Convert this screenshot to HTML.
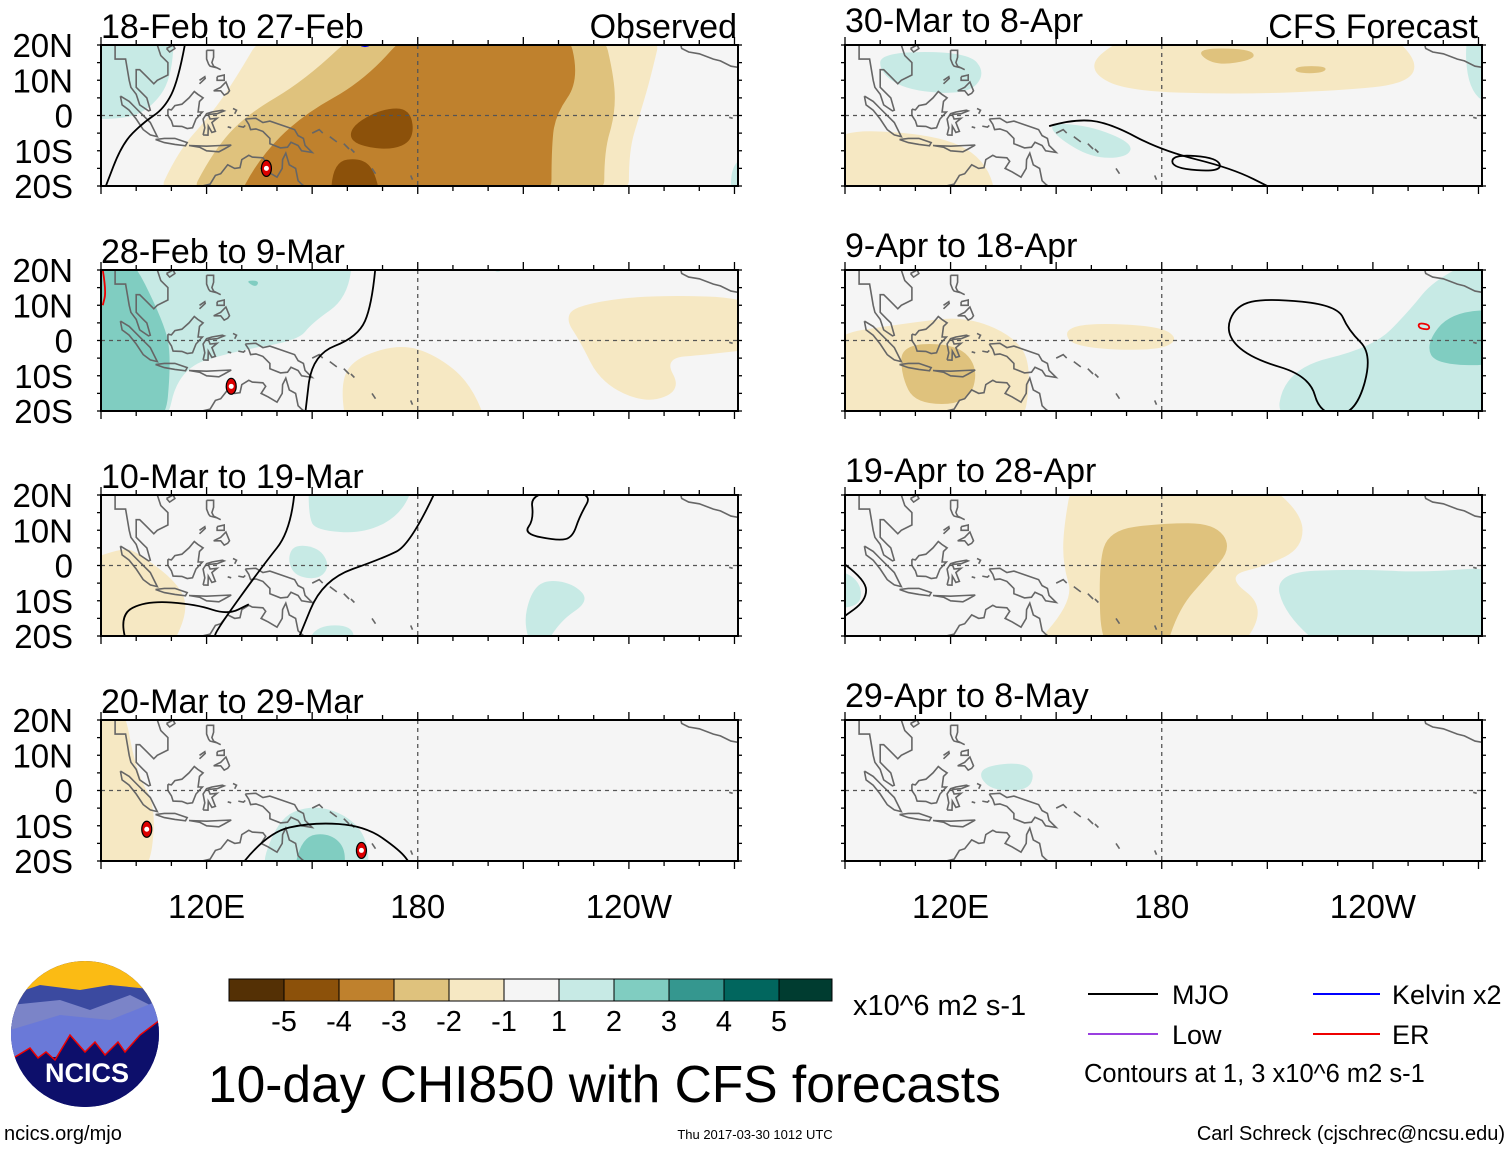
<!DOCTYPE html>
<html><head><meta charset="utf-8"><style>
html,body{margin:0;padding:0;background:#fff}
svg{display:block;font-family:"Liberation Sans",Arial,sans-serif}
</style></head><body>
<svg id="c" width="1510" height="1149" viewBox="0 0 1510 1149" xmlns="http://www.w3.org/2000/svg"></svg>
<script>
const levels=[-5,-4,-3,-2,-1,1,2,3,4,5];
const levelColors=["#543005","#8c510a","#bf812d","#dfc27d","#f6e8c3","#c7eae5","#80cdc1","#35978f","#01665e","#003c30"];
const lonTickLabels=["120E","180","120W"];
const lonTicks=[120,180,240];
const latTickLabels=["20N","10N","0","10S","20S"];
const latTicks=[20,10,0,-10,-20];
const panelTitles=["18-Feb to 27-Feb","28-Feb to 9-Mar","10-Mar to 19-Mar","20-Mar to 29-Mar","30-Mar to 8-Apr","9-Apr to 18-Apr","19-Apr to 28-Apr","29-Apr to 8-May"];
// shaded anomaly regions: [level, [[lon,lat],...]]
const shapes0=[[-1,[[138,20],[250,20],[246,10],[243,0],[240,-10],[240,-20],[104,-20],[112,-10],[121,0],[128,10]]],
[-2,[[166,20],[232,20],[236,10],[236,0],[233,-10],[233,-20],[113,-20],[122,-10],[131,0],[148,10]]],
[-3,[[180,20],[222,20],[226,10],[219,0],[218,-10],[218,-20],[127,-20],[135,-12],[147,0],[165,10]]],
[-4,[[161,-3],[170,2],[178,2],[179,-7],[172,-10],[161,-8]]],
[-4,[[155,-20],[156,-13],[164,-12],[168,-16],[170,-20]]],
[1,[[89,21],[111,21],[110,10],[104,2],[97,-1],[89,-1]]],
[1,[[269,-12],[272,-12],[272,-20],[269,-20]]]];
const shapes1=[[1,[[89,21],[162,21],[160,12],[150,5],[146,0],[128,-3],[112,-8],[108,-21],[89,-21]]],
[1,[[197,21],[207,21],[203,17]]],
[2,[[89,21],[97,21],[108,5],[110,-5],[108,-21],[89,-21]]],
[2,[[131,17],[135,17],[134,15]]],
[-1,[[162,-5],[175,-1],[185,-4],[195,-12],[201,-21],[160,-21],[158,-12]]],
[-1,[[225,10],[245,13],[272,12],[272,-2],[262,-4],[250,-5],[255,-14],[245,-18],[232,-12],[226,0],[222,6]]]];
const shapes2=[[1,[[149,21],[180,21],[176,15],[165,9],[151,10],[149,14]]],
[1,[[145,6],[152,5],[155,0],[152,-4],[145,-3],[143,2]]],
[1,[[216,-4],[224,-5],[229,-10],[220,-16],[214,-21],[210,-17],[212,-8]]],
[1,[[150,-17],[163,-17],[160,-21],[148,-21]]],
[-1,[[89,0],[96,5],[100,4],[112,-5],[115,-13],[108,-21],[89,-21]]]];
const shapes3=[[-1,[[89,21],[96,21],[100,5],[106,-5],[103,-21],[89,-21]]],
[1,[[134,-21],[140,-8],[150,-4],[160,-7],[166,-14],[166,-21]]],
[2,[[144,-21],[147,-13],[155,-12],[160,-17],[158,-21]]]];
const shapes4=[[-1,[[162,18],[180,21],[240,21],[253,16],[250,9],[230,7],[200,6],[170,7],[160,12]]],
[-1,[[89,-4],[115,-5],[130,-12],[134,-21],[89,-21]]],
[-2,[[189,19],[205,19],[207,16],[195,14]]],
[-2,[[218,14],[227,14],[226,12],[218,12]]],
[1,[[100,18],[125,18],[130,12],[125,6],[108,7],[100,12]]],
[1,[[148,-2],[160,-3],[172,-8],[170,-12],[160,-12],[150,-6]]],
[1,[[266,21],[272,21],[272,2],[267,5]]]];
const shapes5=[[-1,[[89,1],[108,5],[125,7],[140,0],[143,-10],[140,-21],[89,-21]]],
[-1,[[152,3],[160,5],[180,4],[185,0],[178,-3],[155,-2]]],
[-2,[[106,-1],[122,-1],[128,-8],[125,-18],[110,-18],[106,-10]]],
[1,[[212,-21],[215,-8],[240,-2],[250,8],[258,18],[272,21],[272,-21]]],
[2,[[255,-1],[262,8],[270,9],[272,-7],[258,-7]]]];
const shapes6=[[-1,[[155,21],[205,21],[220,15],[220,5],[210,0],[198,-3],[210,-12],[200,-21],[140,-21],[155,-10],[152,0],[152,10]]],
[-2,[[165,10],[180,12],[195,12],[200,5],[193,-3],[185,-12],[180,-21],[163,-21],[162,0]]],
[1,[[212,-2],[235,-1],[255,-2],[272,0],[272,-21],[230,-21],[215,-14]]],
[1,[[89,0],[94,-3],[95,-12],[89,-12]]]];
const shapes7=[[1,[[130,7],[140,8],[144,5],[142,0],[132,0],[128,4]]]];
const allShapes=[shapes0,shapes1,shapes2,shapes3,shapes4,shapes5,shapes6,shapes7];
// contour lines: [color, closed, points]
const lines0=[["#000",0,[[114,21],[112,10],[108,2],[102,-2],[96,-8],[91,-21]]],["#00f",1,[[162,21],[165,19.2],[168,21]]]];
const lines1=[["#000",0,[[168,21],[167,10],[163,1],[150,-4],[148,-21]]],["#e00",0,[[90.5,20],[91.5,14],[90.5,10]]]];
const lines2=[["#000",0,[[145,21],[144,10],[136,0],[123,-18],[122,-21]]],["#000",0,[[185,21],[178,6],[170,2],[153,-4],[146,-21]]],["#000",1,[[212,21],[213,13],[210,9],[220,7],[224,8],[226,14],[230,21]]],["#000",0,[[97,-21],[95,-14],[103,-10],[117,-11],[126,-14],[132,-11]]]];
const lines3=[["#000",0,[[130,-21],[137,-12],[150,-9],[165,-10],[175,-17],[178,-21]]]];
const lines4=[["#000",0,[[148,-3],[155,-1],[165,-2],[180,-10],[200,-15],[212,-21]]],["#000",1,[[183,-11],[196,-12],[197,-16],[183,-15]]]];
const lines5=[["#000",1,[[201,10],[210,12],[230,10],[233,3],[240,-4],[235,-21],[225,-21],[222,-10],[205,-5],[198,2]]],["#e00",1,[[253,5],[256,4.5],[256,3],[253,3.5]]]];
const lines6=[["#000",0,[[89,1],[96,-4],[96,-10],[89,-15]]]];
const lines7=[];
const allLines=[lines0,lines1,lines2,lines3,lines4,lines5,lines6,lines7];
const cyclones=[[[137,-15]],[[127,-13]],[],[[103,-11],[164,-17]],[],[],[],[]];
const coasts=[
[[89,20],[94,20],[94,16],[97,16],[98,10],[98.5,8],[100,6],[101,3],[103.5,1.3],[104,1.5],[103,5],[102,6],[100,8],[100,13],[101,13],[103,11],[105,9],[106,10],[109,11.5],[109,15],[107,17],[106,20]],
[[108.6,19],[110.5,20],[111,19],[109.5,18],[108.6,19]],
[[95.5,5.5],[98,4],[100,2],[104,-2],[106,-6],[104,-5.5],[102,-4],[100,-1],[98,1.5],[96,3],[95.5,5.5]],
[[105.5,-6.8],[108,-6.5],[111,-6.5],[114.5,-7.7],[114,-8.6],[111,-8.2],[108,-7.7],[105.5,-6.8]],
[[109,1.8],[110,1.6],[111,2.8],[113,3.2],[115,5],[116.5,6.8],[117.5,6],[119,5],[118,4],[117.6,1],[118.8,1],[117,-1],[116,-3.5],[114.5,-3.7],[113,-3.1],[110.5,-3],[110,-1.5],[109,0],[109,1.8]],
[[119,-5.5],[119.5,-3.5],[119,-1],[120,0.5],[121.5,1],[124.5,1.5],[125,1.3],[123,0.5],[120.5,0.3],[121,-1],[123,-0.8],[121.5,-2],[122.5,-4.5],[121.5,-4.8],[120.5,-3],[120.4,-5.6],[119,-5.5]],
[[120,18.5],[122,18.5],[122,16.5],[121.5,15],[122,14],[124,13],[123,13.5],[121,14],[120.6,14.5],[120,16],[120,18.5]],
[[122,7],[124,8],[125.5,9.5],[126.5,7],[126,6.3],[125,5.8],[124,7],[122,7]],
[[123,11],[125,11.5],[125,10],[123,10],[123,11]],
[[118,10],[119.5,11],[119.6,10.5],[118,9]],
[[127.5,2],[128.5,1.5],[128,0.5]],[[129,-3],[130.5,-3.3],[131,-2.8]],[[126,-3.2],[127,-3.5]],
[[131,-1],[134,-0.8],[136,-2],[138,-1.6],[141,-2.6],[145,-4],[146,-5.7],[147.5,-6.5],[148,-8.5],[150,-10.5],[147,-10],[146,-8.5],[144,-7.6],[143,-9],[141,-9.2],[138,-8],[138,-6.5],[136,-4.5],[134,-3.8],[132.5,-4],[132,-2.5],[131,-1]],
[[115,-8.5],[120,-8.7],[124,-8.5],[127,-8.4],[125,-9.5],[123.5,-10.3],[120,-10],[118,-9],[115,-8.5]],
[[150,-5],[152,-4],[153,-5]],[[155,-6],[157,-7.5]],[[159,-8],[160.5,-9.5]],[[161,-9.5],[162,-10.5]],[[167,-15],[168,-16.5]],[[178,-17],[178.5,-18.2]],[[165,-21],[166,-20.5]],
[[114,-22],[114,-21.5],[116.5,-20.5],[121,-19.5],[122.5,-17],[124,-16.5],[126,-14],[128,-15],[129.5,-14.8],[130,-12.5],[132,-11.3],[133,-11.8],[136,-12],[136.8,-13],[135.5,-15],[137.5,-16],[140,-17.5],[141.5,-15],[141.6,-12.5],[142.5,-10.7],[143.5,-14],[145.3,-15],[146,-18.5],[147,-19.5],[149,-21],[150,-22]],
[[254.5,21],[255,19],[257,18],[260,17.5],[264,16],[266,15.5],[269,14],[272,13.5]],[[268.5,-0.5],[269.5,-0.8]]];
const NS="http://www.w3.org/2000/svg";
const svg=document.getElementById('c');
function mk(tag,attrs,parent){const e=document.createElementNS(NS,tag);for(const k in attrs)e.setAttribute(k,attrs[k]);(parent||svg).appendChild(e);return e;}
const PW=637,PH=141;
const panelX=[101,101,101,101,845,845,845,845];
const panelY=[45,270,495,720,45,270,495,720];
function smooth(pts,closed){
 if(pts.length<3){return "M"+pts.map(p=>p.join(",")).join("L");}
 let d="";const n=pts.length;
 if(closed){
  const m=(a,b)=>[(a[0]+b[0])/2,(a[1]+b[1])/2];
  let s=m(pts[n-1],pts[0]);d="M"+s.join(",");
  for(let i=0;i<n;i++){const e=m(pts[i],pts[(i+1)%n]);d+="Q"+pts[i].join(",")+" "+e.join(",");}
  return d+"Z";
 }
 d="M"+pts[0].join(",");
 for(let i=1;i<n-1;i++){const e=[(pts[i][0]+pts[i+1][0])/2,(pts[i][1]+pts[i+1][1])/2];d+="Q"+pts[i].join(",")+" "+e.join(",");}
 return d+"L"+pts[n-1].join(",");
}
// push edge points beyond the frame so smoothing doesn't pull shading off the edges
function edge(q){let lon=q[0],lat=q[1];
 if(lat>=19.9)lat=27;if(lat<=-19.9)lat=-27;if(lon<=90)lon=82;if(lon>=270)lon=279;return [lon,lat];}
for(let p=0;p<8;p++){
 const x0=panelX[p],y0=panelY[p];
 const sx=lon=>x0+(lon-90)*PW/181;
 const sy=lat=>y0+(20-lat)*PH/40;
 const g=mk('g',{});
 
 
 const cp=mk('clipPath',{id:'cp'+p},g);mk('rect',{x:x0,y:y0,width:PW,height:PH},cp);
 const bg=mk('rect',{x:x0,y:y0,width:PW,height:PH,fill:"#f5f5f5"},g);
 
 
 const inner=mk('g',{'clip-path':'url(#cp'+p+')'},g);
 const sh=allShapes[p].slice().sort((a,b)=>Math.abs(a[0])-Math.abs(b[0]));
 sh.forEach(s=>{
  const col=levelColors[levels.indexOf(s[0])];
  const e=mk('path',{d:smooth(s[1].map(edge).map(q=>[sx(q[0]),sy(q[1])]),true),fill:col},inner);
  
  
 });
 coasts.forEach(c=>{const e=mk('path',{d:"M"+c.map(q=>sx(q[0]).toFixed(1)+","+sy(q[1]).toFixed(1)).join("L"),fill:"none",stroke:"#666","stroke-width":1.6},inner);
  
  });
 mk('line',{x1:x0,x2:x0+PW,y1:sy(0),y2:sy(0),stroke:"#555","stroke-width":1.3,"stroke-dasharray":"4,4"},inner);
 mk('line',{x1:sx(180),x2:sx(180),y1:y0,y2:y0+PH,stroke:"#555","stroke-width":1.3,"stroke-dasharray":"4,4"},inner);
 allLines[p].forEach(l=>{const e=mk('path',{d:smooth(l[2].map(q=>[sx(q[0]),sy(q[1])]),!!l[1]),fill:"none",stroke:l[0],"stroke-width":1.8},inner);
  
  });
 cyclones[p].forEach(c=>{const cx=sx(c[0]),cy=sy(c[1]);
  const e=mk('ellipse',{cx:cx,cy:cy,rx:5,ry:8,fill:"#d00",stroke:"#000","stroke-width":1.2},inner);
  
  
  mk('circle',{cx:cx,cy:cy,r:2.5,fill:"#fff"},inner);});
 mk('rect',{x:x0,y:y0,width:PW,height:PH,fill:"none",stroke:"#000","stroke-width":2},g);
 for(let lon=90;lon<=270;lon+=10){const x=sx(lon);const L=(lon%30==0)?8:5;
  mk('line',{x1:x,x2:x,y1:y0+PH,y2:y0+PH+L,stroke:"#000","stroke-width":1.3},g);
  mk('line',{x1:x,x2:x,y1:y0,y2:y0-L,stroke:"#000","stroke-width":1.3},g);}
 for(let lat=-20;lat<=20;lat+=5){const y=sy(lat);
  mk('line',{x1:x0,x2:x0-4,y1:y,y2:y,stroke:"#000","stroke-width":1.3},g);
  mk('line',{x1:x0+PW,x2:x0+PW+4,y1:y,y2:y,stroke:"#000","stroke-width":1.3},g);}
 const tbase=[38,263,488,713,32,257,482,707][p];
 const t=mk('text',{x:x0,y:tbase,'font-size':34,fill:"#000"},g);t.textContent=panelTitles[p];
 
 
 if(p<4){latTicks.forEach((lat,i)=>{const e=mk('text',{x:73,y:sy(lat)+12,'font-size':33,'text-anchor':'end'},g);e.textContent=latTickLabels[i];
  
  });}
 if(p==3||p==7){lonTicks.forEach((lon,i)=>{const e=mk('text',{x:sx(lon),y:918,'font-size':33,'text-anchor':'middle'},g);e.textContent=lonTickLabels[i];
  
  });}
}
</script>
<div style="position:absolute;left:0;top:0;width:1510px;height:1149px;pointer-events:none">
<svg width="1510" height="1149" style="position:absolute;left:0;top:0">
<text x="737" y="38" font-size="34" text-anchor="end">Observed</text>
<text x="1478" y="38" font-size="34" text-anchor="end">CFS Forecast</text>
<g>
<rect x="229" y="979" width="55" height="22" fill="#543005" stroke="#000"/>
<rect x="284" y="979" width="55" height="22" fill="#8c510a" stroke="#000"/>
<rect x="339" y="979" width="55" height="22" fill="#bf812d" stroke="#000"/>
<rect x="394" y="979" width="55" height="22" fill="#dfc27d" stroke="#000"/>
<rect x="449" y="979" width="55" height="22" fill="#f6e8c3" stroke="#000"/>
<rect x="504" y="979" width="55" height="22" fill="#f5f5f5" stroke="#000"/>
<rect x="559" y="979" width="55" height="22" fill="#c7eae5" stroke="#000"/>
<rect x="614" y="979" width="55" height="22" fill="#80cdc1" stroke="#000"/>
<rect x="669" y="979" width="55" height="22" fill="#35978f" stroke="#000"/>
<rect x="724" y="979" width="55" height="22" fill="#01665e" stroke="#000"/>
<rect x="779" y="979" width="53" height="22" fill="#003c30" stroke="#000"/>
<g font-size="29" text-anchor="middle">
<text x="284" y="1031">-5</text><text x="339" y="1031">-4</text><text x="394" y="1031">-3</text><text x="449" y="1031">-2</text><text x="504" y="1031">-1</text><text x="559" y="1031">1</text><text x="614" y="1031">2</text><text x="669" y="1031">3</text><text x="724" y="1031">4</text><text x="779" y="1031">5</text>
</g></g>
<text x="853" y="1015" font-size="29">x10^6 m2 s-1</text>
<text x="208" y="1102" font-size="51.5">10-day CHI850 with CFS forecasts</text>
<g font-size="27">
<line x1="1088" x2="1158" y1="994" y2="994" stroke="#000" stroke-width="2"/><text x="1172" y="1004">MJO</text>
<line x1="1088" x2="1158" y1="1034" y2="1034" stroke="#9a3fe0" stroke-width="2"/><text x="1172" y="1044">Low</text>
<line x1="1313" x2="1380" y1="994" y2="994" stroke="#00f" stroke-width="2"/><text x="1392" y="1004">Kelvin x2</text>
<line x1="1313" x2="1380" y1="1034" y2="1034" stroke="#e00" stroke-width="2"/><text x="1392" y="1044">ER</text>
<text x="1084" y="1082" font-size="25.5">Contours at 1, 3 x10^6 m2 s-1</text>
</g>
<g>
<clipPath id="lg"><ellipse cx="85" cy="1034" rx="74" ry="73"/></clipPath>
<g clip-path="url(#lg)">
<rect x="10" y="960" width="150" height="150" fill="#0d0f6b"/>
<rect x="10" y="960" width="150" height="55" fill="#fbbb14"/>
<path d="M10 995 L40 985 L80 990 L110 985 L160 990 L160 1025 L10 1030Z" fill="#3b4aa0"/>
<path d="M10 1005 L60 1000 L90 1010 L130 995 L160 1010 L160 1030 L10 1040Z" fill="#7b84c8"/>
<path d="M10 1030 L60 1015 L110 1020 L160 1000 L160 1050 L10 1060Z" fill="#6a79d8"/>
<path d="M10 1060 L30 1048 L38 1058 L46 1052 L55 1060 L70 1035 L85 1052 L95 1042 L105 1055 L118 1042 L125 1052 L140 1035 L160 1020 L160 1110 L10 1110Z" fill="#0d0f6b" stroke="#e00" stroke-width="1.5"/>
</g>
<text x="87" y="1082" font-size="27" font-weight="bold" fill="#fff" text-anchor="middle">NCICS</text>
</g>
<text x="4" y="1140" font-size="20">ncics.org/mjo</text>
<text x="755" y="1139" font-size="13" text-anchor="middle">Thu 2017-03-30 1012 UTC</text>
<text x="1505" y="1140" font-size="20" text-anchor="end">Carl Schreck (cjschrec@ncsu.edu)</text>
</svg></div>
</body></html>
